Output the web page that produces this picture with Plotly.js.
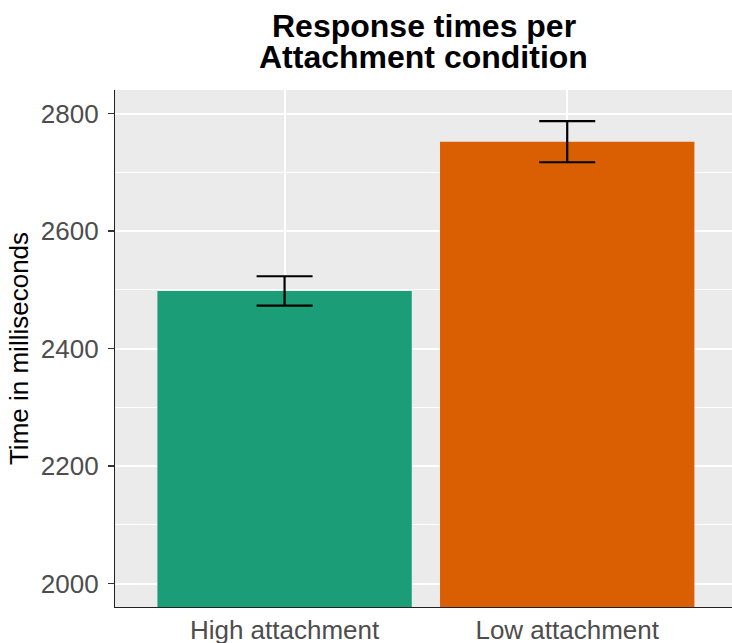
<!DOCTYPE html>
<html>
<head>
<meta charset="utf-8">
<script src="https://cdn.plot.ly/plotly-3.0.1.min.js"></script>
<style>html,body{margin:0;padding:0;background:#fff;}#chart{width:732px;height:643px;}</style>
</head>
<body>
<div id="chart"></div>
<script>
const categories = ["High attachment", "Low attachment"];
const meanTimes = [2498, 2752];
const errorHalf = [25, 35];
const barColors = ["#1B9E77", "#D95F02"];
const yTickVals = [2000, 2200, 2400, 2600, 2800];
const titleLines = ["Response times per", "Attachment condition"];

const FONT = 'Liberation Sans, Arial, sans-serif';

const trace = {
  type: 'bar',
  x: categories,
  y: meanTimes,
  width: 0.9,
  marker: {color: barColors, line: {width: 0}},
  error_y: {type: 'data', array: errorHalf, visible: true, color: '#000000', thickness: 2.2, width: 28},
  hoverinfo: 'none'
};

const layout = {
  width: 732,
  height: 643,
  margin: {l: 115, r: 0, t: 90, b: 36, pad: 0},
  paper_bgcolor: '#FFFFFF',
  plot_bgcolor: '#EBEBEB',
  showlegend: false,
  annotations: [
    {text: '<b>' + titleLines[0] + '</b>', xref: 'paper', yref: 'paper', x: 0.5, y: 1.1238, xanchor: 'center', yanchor: 'middle', showarrow: false, font: {family: FONT, size: 32, color: '#000000'}},
    {text: '<b>' + titleLines[1] + '</b>', xref: 'paper', yref: 'paper', x: 0.5, y: 1.0638, xanchor: 'center', yanchor: 'middle', showarrow: false, font: {family: FONT, size: 32, color: '#000000'}}
  ],
  xaxis: {
    type: 'category',
    range: [-0.6, 1.583],
    showgrid: true, gridcolor: '#FFFFFF', gridwidth: 2,
    showline: true, linecolor: '#222222', linewidth: 1.2,
    ticks: '',
    tickfont: {family: FONT, size: 26, color: '#4D4D4D'},
    zeroline: false, fixedrange: true
  },
  yaxis: {
    range: [1960, 2840],
    tickvals: yTickVals,
    ticktext: yTickVals.map(String),
    showgrid: true, gridcolor: '#FFFFFF', gridwidth: 2,
    minor: {dtick: 100, tick0: 1900, showgrid: true, gridcolor: '#FFFFFF', gridwidth: 1, ticks: ''},
    showline: true, linecolor: '#222222', linewidth: 1.2,
    ticks: 'outside', ticklen: 6, tickwidth: 1.2, tickcolor: '#333333',
    ticklabelstandoff: 4,
    tickfont: {family: FONT, size: 26, color: '#4D4D4D'},
    title: {text: 'Time in milliseconds', font: {family: FONT, size: 26, color: '#000000'}, standoff: 4},
    zeroline: false, fixedrange: true
  }
};

Plotly.newPlot('chart', [trace], layout, {staticPlot: true, displayModeBar: false});
</script>
</body>
</html>
